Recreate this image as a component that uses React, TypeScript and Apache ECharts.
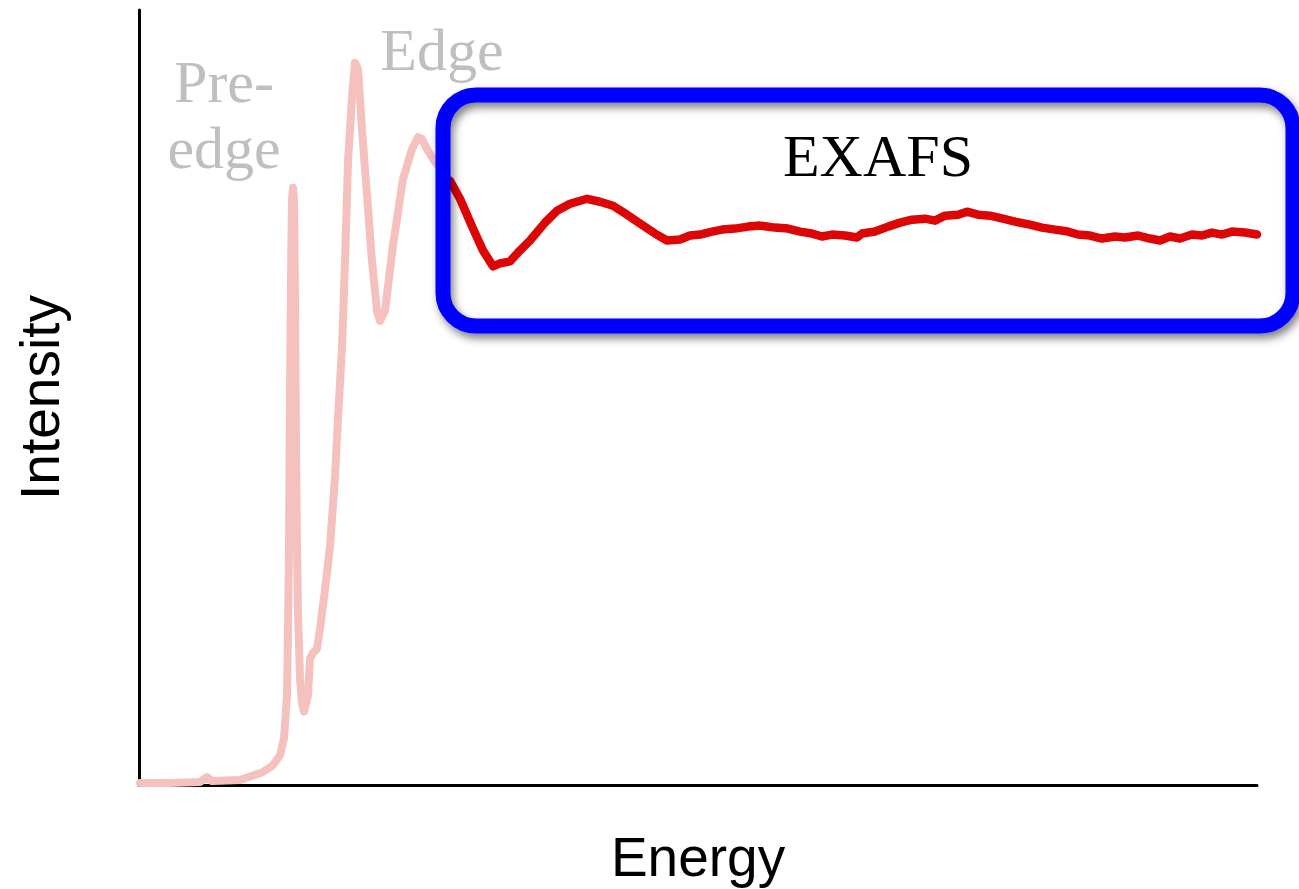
import React, { useEffect, useRef } from "react";
import * as echarts from "echarts";

// Energy (arbitrary units) and intensity for the pre-edge / edge region (drawn faded)
const edgeEnergy = [1, 31, 61, 68, 73, 101, 124, 134, 141, 145, 148, 149, 150, 151, 152, 153, 154, 155, 156, 157, 158, 159, 161, 163, 165, 169, 171, 174, 178, 181, 186, 191, 196, 199, 203, 206, 209, 213, 216, 219, 223, 228, 233, 238, 241, 246, 254, 264, 273, 279, 283, 288, 294, 303, 311];
const edgeIntensity = [2, 2, 3, 8, 4, 5, 13, 20, 30, 47, 90, 157, 240, 390, 510, 590, 601, 590, 490, 340, 240, 173, 107, 82, 74, 90, 127, 133, 137, 157, 197, 240, 310, 370, 440, 527, 627, 693, 727, 720, 660, 593, 527, 477, 467, 477, 543, 610, 640, 652, 650, 640, 630, 618, 608];

// EXAFS region (highlighted)
const exafsEnergy = [311, 321, 334, 344, 354, 361, 371, 381, 391, 406, 418, 431, 448, 461, 474, 488, 501, 516, 528, 541, 551, 561, 573, 583, 596, 609, 621, 636, 649, 661, 673, 683, 693, 706, 718, 723, 736, 749, 761, 773, 786, 796, 806, 819, 828, 839, 851, 864, 876, 891, 903, 916, 929, 939, 951, 963, 976, 986, 999, 1011, 1021, 1031, 1041, 1053, 1063, 1073, 1083, 1093, 1106, 1118];
const exafsIntensity = [608, 590, 560, 538, 522, 525, 527, 538, 548, 566, 578, 585, 590, 587, 583, 574, 565, 555, 548, 549, 553, 554, 557, 559, 560, 562, 563, 561, 560, 557, 555, 552, 554, 553, 551, 555, 557, 562, 566, 569, 570, 568, 573, 574, 577, 574, 573, 570, 567, 564, 561, 559, 557, 554, 553, 550, 552, 551, 553, 550, 548, 552, 550, 554, 553, 556, 554, 557, 556, 554];

const xName = "Energy";
const yName = "Intensity";
const regionLabels = { pre: "Pre-", preLine2: "edge", edge: "Edge", exafs: "EXAFS" };

export default function App() {
  const ref = useRef<HTMLDivElement>(null);

  useEffect(() => {
    if (!ref.current) return;
    const chart = echarts.init(ref.current, null, { renderer: "svg" });
    const zip = (xs: number[], ys: number[]) => xs.map((x, i) => [x, ys[i]]);

    chart.setOption({
      animation: false,
      backgroundColor: "#ffffff",
      grid: { left: 139, right: 42, top: 10, bottom: 99, containLabel: false },
      xAxis: {
        type: "value",
        min: 0,
        max: 1118,
        name: xName,
        nameLocation: "middle",
        nameGap: 44,
        nameTextStyle: { fontFamily: "Liberation Sans", fontSize: 55, color: "#000" },
        axisLine: { show: true, lineStyle: { color: "#000", width: 3 } },
        axisTick: { show: false },
        axisLabel: { show: false },
        splitLine: { show: false },
      },
      yAxis: {
        type: "value",
        min: 0,
        max: 780,
        name: yName,
        nameLocation: "middle",
        nameRotate: 90,
        nameGap: 72,
        nameTextStyle: { fontFamily: "Liberation Sans", fontSize: 55, color: "#000" },
        axisLine: { show: true, lineStyle: { color: "#000", width: 3 } },
        axisTick: { show: false },
        axisLabel: { show: false },
        splitLine: { show: false },
      },
      series: [
        {
          type: "line",
          data: zip(edgeEnergy, edgeIntensity),
          symbol: "none",
          lineStyle: { color: "#f5c1bf", width: 8, join: "round", cap: "round" },
          z: 2,
        },
        {
          type: "line",
          data: zip(exafsEnergy, exafsIntensity),
          symbol: "none",
          lineStyle: { color: "#dd0606", width: 8.5, join: "round", cap: "round" },
          z: 3,
        },
      ],
      graphic: [
        {
          type: "rect",
          z: 100,
          shape: { x: 443, y: 95, width: 850, height: 231, r: 33 },
          style: {
            fill: "none",
            stroke: "#0000ff",
            lineWidth: 15,
            shadowBlur: 8,
            shadowColor: "rgba(0,0,0,0.5)",
            shadowOffsetX: 3,
            shadowOffsetY: 5,
          },
        },
        {
          type: "text",
          z: 101,
          x: 878,
          y: 156,
          style: {
            text: regionLabels.exafs,
            font: "60px 'Liberation Serif'",
            fill: "#000",
            align: "center",
            verticalAlign: "middle",
          },
        },
        {
          type: "text",
          z: 101,
          x: 224,
          y: 82,
          style: {
            text: regionLabels.pre,
            font: "60px 'Liberation Serif'",
            fill: "#bfbfbf",
            align: "center",
            verticalAlign: "middle",
          },
        },
        {
          type: "text",
          z: 101,
          x: 224,
          y: 148,
          style: {
            text: regionLabels.preLine2,
            font: "60px 'Liberation Serif'",
            fill: "#bfbfbf",
            align: "center",
            verticalAlign: "middle",
          },
        },
        {
          type: "text",
          z: 101,
          x: 442,
          y: 50,
          style: {
            text: regionLabels.edge,
            font: "60px 'Liberation Serif'",
            fill: "#bfbfbf",
            align: "center",
            verticalAlign: "middle",
          },
        },
      ],
    });

    return () => chart.dispose();
  }, []);

  return (
    <div
      ref={ref}
      style={{ position: "fixed", left: 0, top: 0, width: 1299, height: 889, background: "#fff" }}
    />
  );
}
